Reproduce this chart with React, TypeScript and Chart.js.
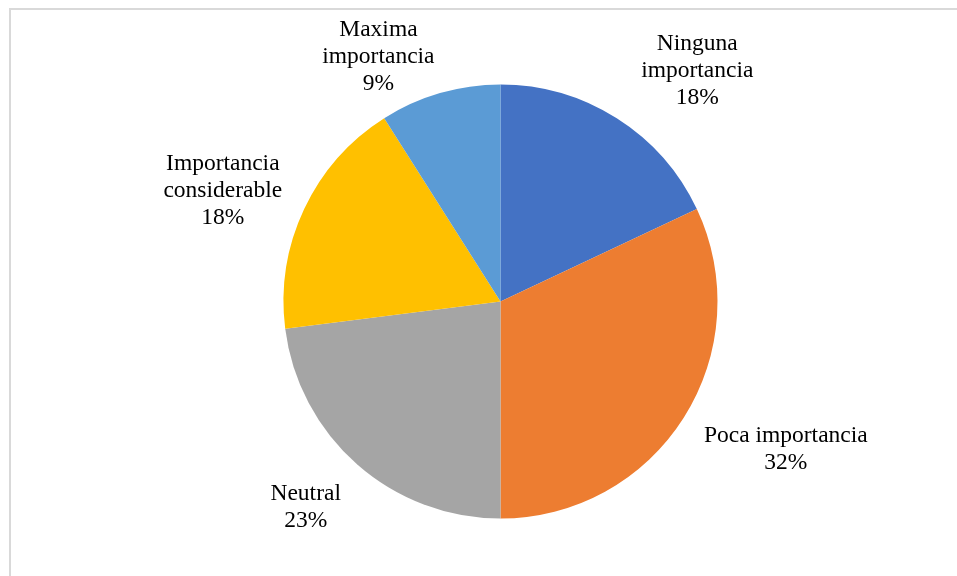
import React, { useEffect, useRef } from "react";
import { Chart, registerables } from "chart.js";

Chart.register(...registerables);

const categories = [
  "Ninguna importancia",
  "Poca importancia",
  "Neutral",
  "Importancia considerable",
  "Maxima importancia",
];
const values = [18, 32, 23, 18, 9];
const labelLines = [
  ["Ninguna", "importancia"],
  ["Poca importancia"],
  ["Neutral"],
  ["Importancia", "considerable"],
  ["Maxima", "importancia"],
];
const colors = ["#4472C4", "#ED7D31", "#A5A5A5", "#FFC000", "#5B9BD5"];

// label placement tweaks (plugin option, not data)
const labelOffsets = [
  [43, 12],
  [43, -6],
  [-5, -9],
  [-18, 12],
  [-42, 31],
];

const pieLabels = {
  id: "pieLabels",
  afterDatasetsDraw(chart: any) {
    const ctx = chart.ctx;
    const meta = chart.getDatasetMeta(0);
    const total = values.reduce((a, b) => a + b, 0);
    ctx.save();
    ctx.font = '23.5px "Liberation Serif", "Times New Roman", serif';
    ctx.fillStyle = "#000";
    ctx.textAlign = "center";
    ctx.textBaseline = "middle";
    const lh = 27;
    meta.data.forEach((arc: any, i: number) => {
      const mid = (arc.startAngle + arc.endAngle) / 2;
      const d = arc.outerRadius + 70;
      const ax = arc.x + Math.cos(mid) * d + labelOffsets[i][0];
      const ay = arc.y + Math.sin(mid) * d + labelOffsets[i][1];
      const pct = Math.round((values[i] / total) * 100) + "%";
      const lines = [...labelLines[i], pct];
      const startY = ay - ((lines.length - 1) * lh) / 2;
      lines.forEach((t, k) => ctx.fillText(t, ax, startY + k * lh));
    });
    ctx.restore();
  },
};

export default function App() {
  const ref = useRef<HTMLCanvasElement | null>(null);
  useEffect(() => {
    document.body.style.overflow = "hidden";
    const chart = new Chart(ref.current as HTMLCanvasElement, {
      type: "pie",
      data: {
        labels: categories,
        datasets: [
          {
            data: values,
            backgroundColor: colors,
            borderWidth: 0,
          },
        ],
      },
      options: {
        animation: false,
        responsive: false,
        devicePixelRatio: 1,
        layout: {
          padding: { left: 275.5, right: 239.5, top: 76.5, bottom: 57.5 },
        },
        plugins: {
          legend: { display: false },
          tooltip: { enabled: false },
        },
      },
      plugins: [pieLabels],
    });
    return () => chart.destroy();
  }, []);
  return (
    <div style={{ position: "fixed", left: 0, top: 0, width: 957, height: 576, overflow: "hidden" }}>
      <div
        style={{
          position: "absolute",
          left: 9,
          top: 8,
          width: 1000,
          height: 600,
          boxSizing: "border-box",
          borderTop: "2px solid #d9d9d9",
          borderLeft: "2px solid #d9d9d9",
        }}
      />
      <canvas
        ref={ref}
        width={949}
        height={568}
        style={{ position: "absolute", left: 8, top: 8, display: "block" }}
      />
    </div>
  );
}
